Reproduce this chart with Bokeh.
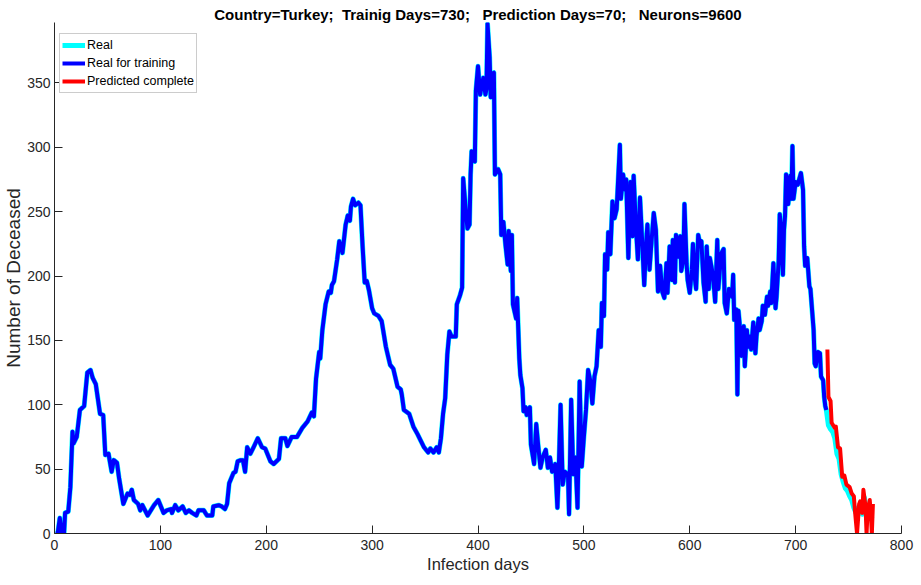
from bokeh.plotting import figure
from bokeh.models import Range1d, Legend, LegendItem, Title, FixedTicker
from bokeh.embed import file_html
from bokeh.resources import INLINE

# ---- data (day, deceased) ----
real_days = [1, 3, 5, 7, 9, 10, 13, 15, 17, 18, 21, 24, 28, 31, 34, 36, 39, 43, 46, 48, 51, 54, 56, 59, 61, 65, 69, 71, 73, 75, 79, 81, 83, 88, 94, 98, 103, 106, 110, 111, 114, 117, 121, 124, 127, 130, 134, 136, 141, 144, 149, 150, 155, 158, 161, 163, 165, 169, 171, 173, 176, 178, 180, 182, 185, 188, 192, 196, 199, 204, 207, 212, 214, 218, 220, 224, 229, 234, 239, 243, 245, 247, 250, 251, 253, 256, 259, 261, 262, 264, 267, 269, 272, 275, 277, 279, 280, 282, 284, 287, 289, 291, 293, 295, 297, 300, 302, 306, 309, 313, 317, 320, 324, 327, 328, 330, 335, 339, 343, 346, 349, 353, 355, 358, 361, 363, 365, 367, 369, 371, 373, 375, 379, 380, 383, 385, 386, 388, 390, 392, 393, 394, 397, 398, 400, 402, 405, 407, 408, 409, 411, 412, 413, 415, 416, 419, 421, 422, 424, 426, 428, 429, 431, 432, 433, 436, 437, 439, 440, 442, 443, 445, 446, 449, 450, 453, 455, 457, 459, 461, 464, 466, 468, 470, 473, 475, 476, 478, 480, 482, 485, 486, 488, 490, 492, 494, 496, 498, 500, 502, 504, 506, 508, 510, 512, 514, 516, 517, 519, 520, 522, 523, 525, 527, 529, 531, 534, 535, 537, 539, 540, 542, 544, 546, 547, 549, 551, 553, 555, 557, 559, 560, 562, 564, 566, 568, 570, 572, 574, 576, 578, 579, 581, 583, 584, 586, 587, 589, 591, 592, 594, 595, 597, 598, 600, 602, 603, 605, 606, 608, 609, 611, 613, 615, 616, 618, 619, 621, 623, 624, 626, 627, 629, 630, 632, 633, 635, 637, 640, 641, 642, 644, 645, 646, 647, 649, 651, 652, 654, 655, 657, 658, 660, 662, 663, 665, 666, 668, 669, 671, 673, 674, 676, 677, 679, 681, 682, 684, 685, 686, 688, 689, 690, 691, 693, 695, 696, 697, 698, 700, 702, 703, 705, 707, 708, 709, 711, 713, 714, 717, 718, 719, 721, 723, 724, 726, 727, 728, 729,
             731, 733, 735, 737, 739, 741, 743, 745, 747, 749, 751, 753, 755, 757, 759, 761, 763, 765, 767, 769, 771, 772]
real_vals = [0, 0, 12, 0, 0, 16, 17, 36, 79, 70, 75, 96, 99, 125, 127, 121, 116, 93, 92, 61, 62, 48, 57, 55, 43, 23, 31, 30, 34, 26, 23, 18, 22, 14, 22, 26, 16, 18, 19, 16, 22, 18, 21, 16, 18, 16, 14, 18, 18, 14, 14, 21, 22, 21, 19, 23, 39, 47, 48, 56, 57, 57, 48, 67, 62, 67, 74, 67, 66, 56, 54, 58, 74, 74, 68, 75, 75, 82, 87, 94, 91, 120, 141, 136, 158, 178, 188, 187, 193, 196, 213, 227, 218, 240, 247, 243, 254, 260, 255, 257, 255, 223, 195, 196, 189, 175, 171, 169, 165, 145, 131, 128, 114, 112, 108, 96, 93, 83, 77, 72, 67, 63, 66, 63, 67, 63, 74, 93, 105, 139, 157, 153, 153, 178, 185, 191, 276, 256, 237, 240, 279, 297, 289, 344, 363, 341, 354, 341, 345, 396, 370, 339, 357, 358, 279, 283, 279, 232, 242, 224, 209, 235, 204, 232, 178, 167, 183, 136, 123, 113, 95, 98, 92, 98, 69, 54, 85, 67, 51, 59, 65, 51, 59, 48, 54, 20, 41, 100, 38, 48, 46, 15, 104, 46, 59, 20, 118, 52, 75, 96, 127, 119, 101, 122, 130, 158, 145, 179, 169, 217, 205, 234, 217, 258, 245, 252, 302, 260, 279, 267, 275, 214, 273, 231, 278, 241, 213, 261, 228, 193, 228, 240, 205, 228, 249, 236, 188, 208, 188, 183, 210, 187, 223, 197, 228, 195, 232, 215, 231, 204, 213, 256, 210, 197, 187, 205, 225, 197, 190, 232, 228, 227, 195, 180, 223, 190, 214, 205, 190, 180, 228, 190, 210, 218, 221, 179, 171, 190, 184, 201, 166, 174, 108, 173, 164, 138, 161, 130, 158, 145, 153, 143, 164, 140, 153, 167, 158, 165, 177, 170, 184, 177, 188, 179, 210, 175, 184, 212, 248, 239, 201, 236, 247, 279, 256, 278, 260, 301, 260, 273, 271, 274, 280, 267, 223, 208, 214, 192, 190, 158, 132, 130, 141, 140, 122, 119, 106, 99, 96,
             84, 81, 79, 74, 62, 58, 46, 40, 35, 33, 29, 26, 20, 16, 20, 22, 15, 28, 14, 20, 15, 12]

training_days_count = 730
train_days = [d for d in real_days if d < training_days_count]
train_vals = real_vals[:len(train_days)]

pred_days = [730, 731, 733, 734, 737, 738, 740, 742, 744, 746, 748, 751, 753, 755, 756, 758, 760, 761, 763, 764, 766, 767, 768, 770, 771, 772, 773]
pred_vals = [143, 106, 103, 86, 82, 83, 67, 66, 44, 45, 38, 36, 31, 29, 18, 0, 23, 25, 16, 34, 21, 0, 18, 26, 16, 0, 23]

x_ticks = [0, 100, 200, 300, 400, 500, 600, 700, 800]
y_ticks = [0, 50, 100, 150, 200, 250, 300, 350]

title_text = "Country=Turkey;\u00a0 Trainig Days=730;\u00a0\u00a0 Prediction Days=70;\u00a0\u00a0 Neurons=9600"

FONT = "Liberation Sans"

p = figure(width=921, height=585, output_backend="svg", toolbar_location=None,
           x_range=Range1d(0, 800), y_range=Range1d(0, 397),
           min_border_left=54, min_border_right=20, min_border_top=22, min_border_bottom=52)
p.outline_line_color = None
p.xgrid.visible = False
p.ygrid.visible = False
p.background_fill_color = "white"
p.border_fill_color = "white"

r_real = p.line(real_days, real_vals, line_color="#00FFFF", line_width=5, line_join="round")
r_train = p.line(train_days, train_vals, line_color="#0000FF", line_width=4, line_join="round")
r_pred = p.line(pred_days, pred_vals, line_color="#FF0000", line_width=4, line_join="round")

for ax in (p.xaxis[0], p.yaxis[0]):
    ax.axis_line_color = "#262626"
    ax.major_tick_line_color = "#262626"
    ax.major_tick_in = 8
    ax.major_tick_out = 0
    ax.minor_tick_line_color = None
    ax.major_label_text_font = FONT
    ax.major_label_text_font_size = "14px"
    ax.major_label_text_color = "#262626"
    ax.axis_label_text_font = FONT
    ax.axis_label_text_font_style = "normal"
    ax.axis_label_text_color = "#262626"

p.xaxis.ticker = FixedTicker(ticks=x_ticks)
p.yaxis.ticker = FixedTicker(ticks=y_ticks)
p.xaxis.axis_label = "Infection days"
p.yaxis.axis_label = "Number of Deceased"
p.xaxis.axis_label_text_font_size = "16.5px"
p.yaxis.axis_label_text_font_size = "19px"
p.xaxis.major_label_standoff = 6
p.yaxis.major_label_standoff = 4
p.xaxis.axis_label_standoff = 2
p.yaxis.axis_label_standoff = 0

legend = Legend(items=[LegendItem(label="Real", renderers=[r_real]),
                       LegendItem(label="Real for training", renderers=[r_train]),
                       LegendItem(label="Predicted complete", renderers=[r_pred])],
                location=(5, 440))
legend.label_text_font = FONT
legend.label_text_font_size = "12.5px"
legend.label_text_color = "black"
legend.glyph_width = 23
legend.glyph_height = 18
legend.label_height = 18
legend.label_standoff = 2
legend.spacing = 0
legend.padding = 2
legend.margin = 0
legend.border_line_color = "#9a9a9a"
legend.border_line_width = 1
legend.background_fill_alpha = 1
p.add_layout(legend)

title = Title(text=title_text, align="center", text_font=FONT, text_font_style="bold",
              text_font_size="15px", text_color="black", standoff=0, offset=0)
p.add_layout(title, "above")

open("out.html", "w").write(file_html(p, INLINE))
